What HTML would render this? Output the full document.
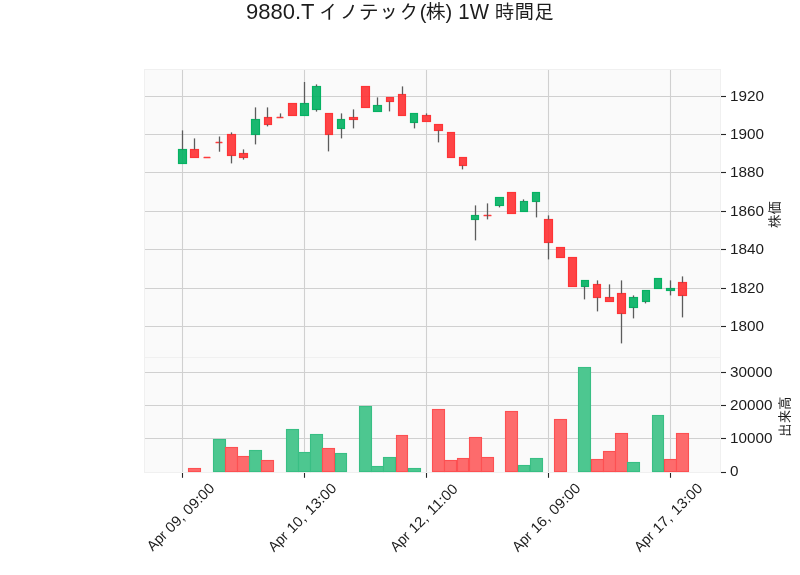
<!DOCTYPE html>
<html lang="ja"><head><meta charset="utf-8"><title>9880.T イノテック(株) 1W 時間足</title>
<style>html,body{margin:0;padding:0;background:#fff;}body{width:800px;height:575px;overflow:hidden;}svg{display:block;}text{font-family:"Liberation Sans", "IPAGothic", sans-serif;fill:#1c1c1c;}</style></head><body>
<svg width="800" height="575" viewBox="0 0 800 575">
<rect x="0" y="0" width="800" height="575" fill="#ffffff"/>
<rect x="144" y="69" width="577" height="404" fill="#fafafa"/>
<g fill="none" stroke="#f0f0f0" stroke-width="1" shape-rendering="crispEdges">
<rect x="144.5" y="69.5" width="576" height="288"/>
<rect x="144.5" y="357.5" width="576" height="115"/>
</g>
<g stroke="#d0d0d0" stroke-width="1.1">
<line x1="145" y1="96.5" x2="720" y2="96.5"/>
<line x1="145" y1="134.5" x2="720" y2="134.5"/>
<line x1="145" y1="172.5" x2="720" y2="172.5"/>
<line x1="145" y1="211.5" x2="720" y2="211.5"/>
<line x1="145" y1="249.5" x2="720" y2="249.5"/>
<line x1="145" y1="288.5" x2="720" y2="288.5"/>
<line x1="145" y1="326.5" x2="720" y2="326.5"/>
<line x1="145" y1="372.5" x2="720" y2="372.5"/>
<line x1="145" y1="405.5" x2="720" y2="405.5"/>
<line x1="145" y1="438.5" x2="720" y2="438.5"/>
<line x1="182.5" y1="70" x2="182.5" y2="472"/>
<line x1="304.5" y1="70" x2="304.5" y2="472"/>
<line x1="426.5" y1="70" x2="426.5" y2="472"/>
<line x1="548.5" y1="70" x2="548.5" y2="472"/>
<line x1="670.5" y1="70" x2="670.5" y2="472"/>
</g>
<g stroke-width="1.1">
<rect x="188.5" y="468.5" width="12" height="3" fill="#fd6b6c" stroke="#fd5052"/>
<rect x="213.5" y="439.5" width="12" height="32" fill="#4dc790" stroke="#38bf84"/>
<rect x="225.5" y="447.5" width="12" height="24" fill="#fd6b6c" stroke="#fd5052"/>
<rect x="237.5" y="456.5" width="12" height="15" fill="#fd6b6c" stroke="#fd5052"/>
<rect x="249.5" y="450.5" width="12" height="21" fill="#4dc790" stroke="#38bf84"/>
<rect x="261.5" y="460.5" width="12" height="11" fill="#fd6b6c" stroke="#fd5052"/>
<rect x="286.5" y="429.5" width="12" height="42" fill="#4dc790" stroke="#38bf84"/>
<rect x="298.5" y="452.5" width="12" height="19" fill="#4dc790" stroke="#38bf84"/>
<rect x="310.5" y="434.5" width="12" height="37" fill="#4dc790" stroke="#38bf84"/>
<rect x="322.5" y="448.5" width="12" height="23" fill="#fd6b6c" stroke="#fd5052"/>
<rect x="335.5" y="453.5" width="11" height="18" fill="#4dc790" stroke="#38bf84"/>
<rect x="359.5" y="406.5" width="12" height="65" fill="#4dc790" stroke="#38bf84"/>
<rect x="371.5" y="466.5" width="12" height="5" fill="#4dc790" stroke="#38bf84"/>
<rect x="383.5" y="457.5" width="12" height="14" fill="#4dc790" stroke="#38bf84"/>
<rect x="396.5" y="435.5" width="11" height="36" fill="#fd6b6c" stroke="#fd5052"/>
<rect x="408.5" y="468.5" width="12" height="3" fill="#4dc790" stroke="#38bf84"/>
<rect x="432.5" y="409.5" width="12" height="62" fill="#fd6b6c" stroke="#fd5052"/>
<rect x="444.5" y="460.5" width="12" height="11" fill="#fd6b6c" stroke="#fd5052"/>
<rect x="457.5" y="458.5" width="11" height="13" fill="#fd6b6c" stroke="#fd5052"/>
<rect x="469.5" y="437.5" width="12" height="34" fill="#fd6b6c" stroke="#fd5052"/>
<rect x="481.5" y="457.5" width="12" height="14" fill="#fd6b6c" stroke="#fd5052"/>
<rect x="505.5" y="411.5" width="12" height="60" fill="#fd6b6c" stroke="#fd5052"/>
<rect x="518.5" y="465.5" width="11" height="6" fill="#4dc790" stroke="#38bf84"/>
<rect x="530.5" y="458.5" width="12" height="13" fill="#4dc790" stroke="#38bf84"/>
<rect x="554.5" y="419.5" width="12" height="52" fill="#fd6b6c" stroke="#fd5052"/>
<rect x="578.5" y="367.5" width="12" height="104" fill="#4dc790" stroke="#38bf84"/>
<rect x="591.5" y="459.5" width="12" height="12" fill="#fd6b6c" stroke="#fd5052"/>
<rect x="603.5" y="451.5" width="12" height="20" fill="#fd6b6c" stroke="#fd5052"/>
<rect x="615.5" y="433.5" width="12" height="38" fill="#fd6b6c" stroke="#fd5052"/>
<rect x="627.5" y="462.5" width="12" height="9" fill="#4dc790" stroke="#38bf84"/>
<rect x="652.5" y="415.5" width="11" height="56" fill="#4dc790" stroke="#38bf84"/>
<rect x="664.5" y="459.5" width="12" height="12" fill="#fd6b6c" stroke="#fd5052"/>
<rect x="676.5" y="433.5" width="12" height="38" fill="#fd6b6c" stroke="#fd5052"/>
</g>
<g stroke-width="1.15" fill-opacity="0.9" stroke-opacity="0.96">
<rect x="178.5" y="149.5" width="8" height="14" fill="#00b060" stroke="#00b060"/>
<rect x="190.5" y="149.5" width="8" height="8" fill="#fe3032" stroke="#fe3032"/>
<rect x="203.5" y="156.85" width="7" height="1.3" rx="0.5" fill="#fe3032" fill-opacity="0.95" stroke="none"/>
<rect x="215.5" y="141.85" width="7" height="1.3" rx="0.5" fill="#fe3032" fill-opacity="0.95" stroke="none"/>
<rect x="227.5" y="134.5" width="8" height="21" fill="#fe3032" stroke="#fe3032"/>
<rect x="239.5" y="153.5" width="8" height="4" fill="#fe3032" stroke="#fe3032"/>
<rect x="251.5" y="119.5" width="8" height="15" fill="#00b060" stroke="#00b060"/>
<rect x="264.5" y="117.5" width="7" height="7" fill="#fe3032" stroke="#fe3032"/>
<rect x="276.5" y="116.85" width="7" height="1.3" rx="0.5" fill="#fe3032" fill-opacity="0.95" stroke="none"/>
<rect x="288.5" y="103.5" width="8" height="12" fill="#fe3032" stroke="#fe3032"/>
<rect x="300.5" y="103.5" width="8" height="12" fill="#00b060" stroke="#00b060"/>
<rect x="312.5" y="86.5" width="8" height="23" fill="#00b060" stroke="#00b060"/>
<rect x="325.5" y="113.5" width="7" height="21" fill="#fe3032" stroke="#fe3032"/>
<rect x="337.5" y="119.5" width="7" height="9" fill="#00b060" stroke="#00b060"/>
<rect x="349.5" y="117.5" width="8" height="2" fill="#fe3032" stroke="#fe3032"/>
<rect x="361.5" y="86.5" width="8" height="21" fill="#fe3032" stroke="#fe3032"/>
<rect x="373.5" y="105.5" width="8" height="6" fill="#00b060" stroke="#00b060"/>
<rect x="386.5" y="97.5" width="7" height="4" fill="#fe3032" stroke="#fe3032"/>
<rect x="398.5" y="94.5" width="7" height="21" fill="#fe3032" stroke="#fe3032"/>
<rect x="410.5" y="113.5" width="7" height="9" fill="#00b060" stroke="#00b060"/>
<rect x="422.5" y="115.5" width="8" height="6" fill="#fe3032" stroke="#fe3032"/>
<rect x="434.5" y="124.5" width="8" height="6" fill="#fe3032" stroke="#fe3032"/>
<rect x="447.5" y="132.5" width="7" height="25" fill="#fe3032" stroke="#fe3032"/>
<rect x="459.5" y="157.5" width="7" height="8" fill="#fe3032" stroke="#fe3032"/>
<rect x="471.5" y="215.5" width="7" height="4" fill="#00b060" stroke="#00b060"/>
<rect x="483.5" y="214.85" width="8" height="1.3" rx="0.5" fill="#fe3032" fill-opacity="0.95" stroke="none"/>
<rect x="495.5" y="197.5" width="8" height="8" fill="#00b060" stroke="#00b060"/>
<rect x="507.5" y="192.5" width="8" height="21" fill="#fe3032" stroke="#fe3032"/>
<rect x="520.5" y="201.5" width="7" height="10" fill="#00b060" stroke="#00b060"/>
<rect x="532.5" y="192.5" width="7" height="9" fill="#00b060" stroke="#00b060"/>
<rect x="544.5" y="219.5" width="8" height="23" fill="#fe3032" stroke="#fe3032"/>
<rect x="556.5" y="247.5" width="8" height="10" fill="#fe3032" stroke="#fe3032"/>
<rect x="568.5" y="257.5" width="8" height="29" fill="#fe3032" stroke="#fe3032"/>
<rect x="581.5" y="280.5" width="7" height="6" fill="#00b060" stroke="#00b060"/>
<rect x="593.5" y="284.5" width="7" height="13" fill="#fe3032" stroke="#fe3032"/>
<rect x="605.5" y="297.5" width="8" height="4" fill="#fe3032" stroke="#fe3032"/>
<rect x="617.5" y="293.5" width="8" height="20" fill="#fe3032" stroke="#fe3032"/>
<rect x="629.5" y="297.5" width="8" height="10" fill="#00b060" stroke="#00b060"/>
<rect x="642.5" y="290.5" width="7" height="11" fill="#00b060" stroke="#00b060"/>
<rect x="654.5" y="278.5" width="7" height="10" fill="#00b060" stroke="#00b060"/>
<rect x="666.5" y="288.5" width="8" height="2" fill="#00b060" stroke="#00b060"/>
<rect x="678.5" y="282.5" width="8" height="13" fill="#fe3032" stroke="#fe3032"/>
</g>
<g fill="#5c5c5c">
<rect x="181.85" y="130.4" width="1.3" height="19.2"/>
<rect x="193.85" y="138.4" width="1.3" height="11.2"/>
<rect x="218.85" y="136.5" width="1.3" height="15.2"/>
<rect x="230.85" y="132.4" width="1.3" height="2.2"/>
<rect x="230.85" y="155.4" width="1.3" height="8"/>
<rect x="242.85" y="149.4" width="1.3" height="4.2"/>
<rect x="242.85" y="157.4" width="1.3" height="2.2"/>
<rect x="254.85" y="107.4" width="1.3" height="12.2"/>
<rect x="254.85" y="134.4" width="1.3" height="10"/>
<rect x="266.85" y="107.4" width="1.3" height="10.2"/>
<rect x="266.85" y="124.4" width="1.3" height="2"/>
<rect x="279.85" y="113.4" width="1.3" height="4"/>
<rect x="303.85" y="82" width="1.3" height="21.6"/>
<rect x="315.85" y="84.4" width="1.3" height="2.2"/>
<rect x="315.85" y="109.4" width="1.3" height="2.2"/>
<rect x="327.85" y="134.4" width="1.3" height="17"/>
<rect x="340.85" y="113.4" width="1.3" height="6.2"/>
<rect x="340.85" y="128.4" width="1.3" height="10"/>
<rect x="352.85" y="109.4" width="1.3" height="8.2"/>
<rect x="352.85" y="119.4" width="1.3" height="9"/>
<rect x="376.85" y="97.4" width="1.3" height="8.2"/>
<rect x="388.85" y="101.4" width="1.3" height="10"/>
<rect x="401.85" y="86.4" width="1.3" height="8.2"/>
<rect x="413.85" y="122.4" width="1.3" height="6"/>
<rect x="425.85" y="113.4" width="1.3" height="2.2"/>
<rect x="437.85" y="130.4" width="1.3" height="12"/>
<rect x="461.85" y="165.4" width="1.3" height="4"/>
<rect x="474.85" y="205.4" width="1.3" height="10.2"/>
<rect x="474.85" y="219.4" width="1.3" height="21"/>
<rect x="486.85" y="203.4" width="1.3" height="16"/>
<rect x="498.85" y="205.4" width="1.3" height="2"/>
<rect x="522.85" y="199.4" width="1.3" height="2.2"/>
<rect x="535.85" y="201.4" width="1.3" height="16"/>
<rect x="547.85" y="215.4" width="1.3" height="4.2"/>
<rect x="547.85" y="242.4" width="1.3" height="17"/>
<rect x="583.85" y="286.4" width="1.3" height="13"/>
<rect x="596.85" y="280.4" width="1.3" height="4.2"/>
<rect x="596.85" y="297.4" width="1.3" height="14"/>
<rect x="608.85" y="284.4" width="1.3" height="13.2"/>
<rect x="620.85" y="280.4" width="1.3" height="13.2"/>
<rect x="620.85" y="313.4" width="1.3" height="30"/>
<rect x="632.85" y="295.4" width="1.3" height="2.2"/>
<rect x="632.85" y="307.4" width="1.3" height="11"/>
<rect x="644.85" y="301.4" width="1.3" height="2"/>
<rect x="669.85" y="280.4" width="1.3" height="8.2"/>
<rect x="669.85" y="290.4" width="1.3" height="5"/>
<rect x="681.85" y="276.4" width="1.3" height="6.2"/>
<rect x="681.85" y="295.4" width="1.3" height="22"/>
</g>
<g stroke="#262626" stroke-width="1.1">
<line x1="721" y1="96.5" x2="726" y2="96.5"/>
<line x1="721" y1="134.5" x2="726" y2="134.5"/>
<line x1="721" y1="172.5" x2="726" y2="172.5"/>
<line x1="721" y1="211.5" x2="726" y2="211.5"/>
<line x1="721" y1="249.5" x2="726" y2="249.5"/>
<line x1="721" y1="288.5" x2="726" y2="288.5"/>
<line x1="721" y1="326.5" x2="726" y2="326.5"/>
<line x1="721" y1="372.5" x2="726" y2="372.5"/>
<line x1="721" y1="405.5" x2="726" y2="405.5"/>
<line x1="721" y1="438.5" x2="726" y2="438.5"/>
<line x1="721" y1="472.5" x2="726" y2="472.5"/>
<line x1="182.5" y1="473" x2="182.5" y2="477.8"/>
<line x1="304.5" y1="473" x2="304.5" y2="477.8"/>
<line x1="426.5" y1="473" x2="426.5" y2="477.8"/>
<line x1="548.5" y1="473" x2="548.5" y2="477.8"/>
<line x1="670.5" y1="473" x2="670.5" y2="477.8"/>
</g>
<g font-size="13.89px">
<text transform="translate(730,100.6) scale(1.1,1.04)">1920</text>
<text transform="translate(730,138.6) scale(1.1,1.04)">1900</text>
<text transform="translate(730,176.6) scale(1.1,1.04)">1880</text>
<text transform="translate(730,215.6) scale(1.1,1.04)">1860</text>
<text transform="translate(730,253.6) scale(1.1,1.04)">1840</text>
<text transform="translate(730,292.6) scale(1.1,1.04)">1820</text>
<text transform="translate(730,330.6) scale(1.1,1.04)">1800</text>
<text transform="translate(730,376.6) scale(1.1,1.04)">30000</text>
<text transform="translate(730,409.6) scale(1.1,1.04)">20000</text>
<text transform="translate(730,442.6) scale(1.1,1.04)">10000</text>
<text transform="translate(730,475.9) scale(1.1,1.04)">0</text>
<text transform="translate(183.45,521) rotate(-45) scale(1.082,1.04)"><tspan x="-40.06" textLength="19.97" lengthAdjust="spacingAndGlyphs">Apr</tspan> <tspan x="-16.22">09,</tspan> <tspan x="6.95">09:00</tspan></text>
<text transform="translate(305.45,521) rotate(-45) scale(1.082,1.04)"><tspan x="-41.26" textLength="19.97" lengthAdjust="spacingAndGlyphs">Apr</tspan> <tspan x="-17.06">10,</tspan> <tspan x="6.95">13:00</tspan></text>
<text transform="translate(427.45,521) rotate(-45) scale(1.082,1.04)"><tspan x="-41.26" textLength="19.97" lengthAdjust="spacingAndGlyphs">Apr</tspan> <tspan x="-17.06">12,</tspan> <tspan x="6.95">11:00</tspan></text>
<text transform="translate(549.45,521) rotate(-45) scale(1.082,1.04)"><tspan x="-41.26" textLength="19.97" lengthAdjust="spacingAndGlyphs">Apr</tspan> <tspan x="-17.06">16,</tspan> <tspan x="6.95">09:00</tspan></text>
<text transform="translate(671.45,521) rotate(-45) scale(1.082,1.04)"><tspan x="-41.26" textLength="19.97" lengthAdjust="spacingAndGlyphs">Apr</tspan> <tspan x="-17.06">17,</tspan> <tspan x="6.95">13:00</tspan></text>
</g>
<text font-size="13.89px" text-anchor="middle" transform="translate(780.2,214.6) rotate(-90) scale(0.966,1.04)">株価</text>
<text font-size="13.89px" text-anchor="middle" transform="translate(790,416.6) rotate(-90) scale(0.966,1.04)">出来高</text>
<text font-size="20px" y="18.6"><tspan x="246" y="18.7" font-size="22px">9880.T</tspan> <tspan x="319" y="18.6">イノテック</tspan><tspan x="419.8 425.7 445.6" y="18.6">(株)</tspan> <tspan x="458.3" y="18.7" font-size="22px" textLength="30.6" lengthAdjust="spacingAndGlyphs">1W</tspan> <tspan x="494.8" y="18.6" textLength="59.1" lengthAdjust="spacingAndGlyphs">時間足</tspan></text>
</svg>
</body></html>
